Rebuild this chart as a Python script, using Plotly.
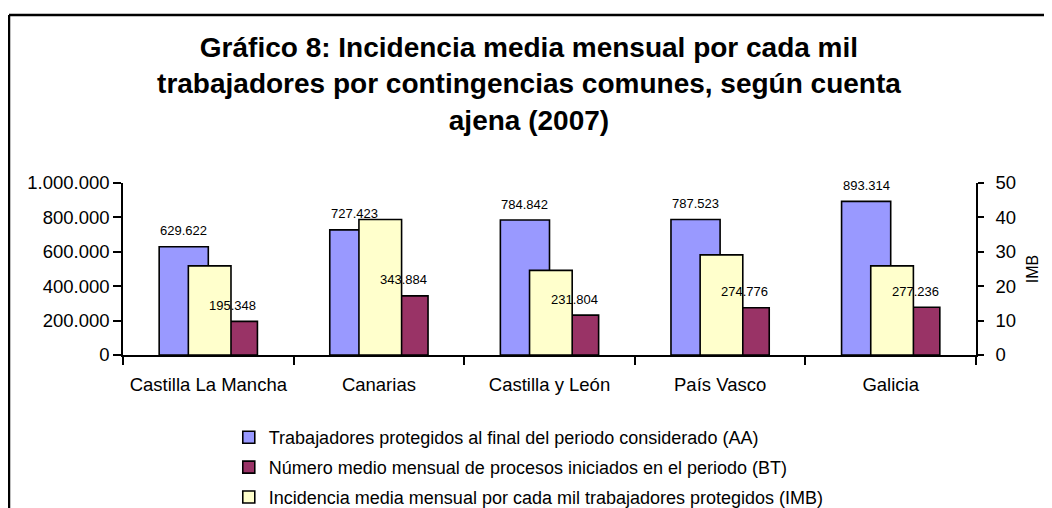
import plotly.graph_objects as go

# Data
regiones = ["Castilla La Mancha", "Canarias", "Castilla y León", "País Vasco", "Galicia"]
trabajadores_aa = [629622, 727423, 784842, 787523, 893314]
procesos_bt = [195348, 343884, 231804, 274776, 277236]
incidencia_imb = [25.9, 39.4, 24.6, 29.1, 25.9]

nombre_aa = "Trabajadores protegidos al final del periodo considerado (AA)"
nombre_bt = "Número medio mensual de procesos iniciados en el periodo (BT)"
nombre_imb = "Incidencia media mensual por cada mil trabajadores protegidos (IMB)"

titulo = ("Gráfico 8: Incidencia media mensual por cada mil<br>"
          "trabajadores por contingencias comunes, según cuenta<br>"
          "ajena (2007)")

FONT = "Liberation Sans, Arial, sans-serif"
# page body keeps an 8px margin, so the figure is a bit smaller than the window
W, H = 1044, 500
L, R, T, B = 115, 76, 175, 153


def fmt(v):
    return f"{v:,}".replace(",", ".")


fig = go.Figure()
fig.add_trace(go.Bar(x=regiones, y=trabajadores_aa, name=nombre_aa,
                     offset=-0.288, width=0.288, legendgroup="aa",
                     marker=dict(color="#9999FF", line=dict(color="black", width=1.6))))
fig.add_trace(go.Bar(x=regiones, y=procesos_bt, name=nombre_bt,
                     offset=0.0, width=0.288, legendgroup="bt",
                     marker=dict(color="#993366", line=dict(color="black", width=1.6))))
fig.add_trace(go.Bar(x=regiones, y=incidencia_imb, name=nombre_imb, yaxis="y2",
                     offset=-0.117, width=0.25, legendgroup="imb",
                     marker=dict(color="#FFFFCC", line=dict(color="black", width=1.6))))

# value labels above the primary-axis bars
annotations = []
cat_px = (W - L - R) / len(regiones)
for serie, shift in ((trabajadores_aa, -0.144), (procesos_bt, 0.144)):
    for reg, v in zip(regiones, serie):
        annotations.append(dict(x=reg, y=v, xref="x", yref="y", text=fmt(v),
                                showarrow=False, xshift=shift * cat_px, yshift=16,
                                font=dict(family=FONT, size=13, color="black")))

# chart frame: only the top and left edges fall inside the picture
pw, ph = W - L - R, H - T - B
fx0, fx1 = (1 - L) / pw, (W - L) / pw
fy0, fy1 = (H - B - 7) / ph, (H - B - H) / ph
frame = dict(color="black", width=2.5)
fig.add_shape(type="line", xref="paper", yref="paper", x0=fx0, x1=fx1, y0=fy0, y1=fy0,
              line=frame, layer="above")
fig.add_shape(type="line", xref="paper", yref="paper", x0=fx0, x1=fx0, y0=fy0, y1=fy1,
              line=frame, layer="above")

fig.update_layout(
    width=W, height=H,
    margin=dict(l=L, r=R, t=T, b=B, autoexpand=False),
    paper_bgcolor="white", plot_bgcolor="white",
    separators=",.",
    barmode="overlay",
    font=dict(family=FONT, color="black"),
    title=dict(text=titulo, x=0.499, xref="container", xanchor="center",
               y=1 - 49 / H, yref="container", yanchor="top",
               font=dict(family=FONT, size=28, weight="bold", color="black")),
    xaxis=dict(showline=True, linecolor="black", linewidth=1.5, ticks="outside",
               ticklen=8, tickcolor="black", tickwidth=1.5, tickson="boundaries",
               showgrid=False, tickfont=dict(size=18.5), ticklabelstandoff=12,
               automargin=False),
    yaxis=dict(range=[0, 1000000], dtick=200000, tickformat=",d",
               showline=True, linecolor="black", linewidth=1.5, ticks="outside",
               ticklen=8, tickcolor="black", tickwidth=1.5, showgrid=False,
               zeroline=False, tickfont=dict(size=18.5), automargin=False),
    yaxis2=dict(range=[0, 50], dtick=10, overlaying="y", side="right",
                showline=True, linecolor="black", linewidth=1.5, ticks="outside",
                ticklen=6, tickcolor="black", tickwidth=1.5, showgrid=False,
                zeroline=False, tickfont=dict(size=18.5), ticklabelstandoff=8,
                automargin=False,
                title=dict(text="IMB", font=dict(size=16), standoff=12)),
    legend=dict(orientation="v", x=0.124, xanchor="left", y=-0.372, yanchor="top",
                font=dict(size=18), tracegroupgap=3.5, traceorder="grouped",
                bgcolor="rgba(0,0,0,0)"),
    annotations=annotations,
)

fig.write_html("out.html")
